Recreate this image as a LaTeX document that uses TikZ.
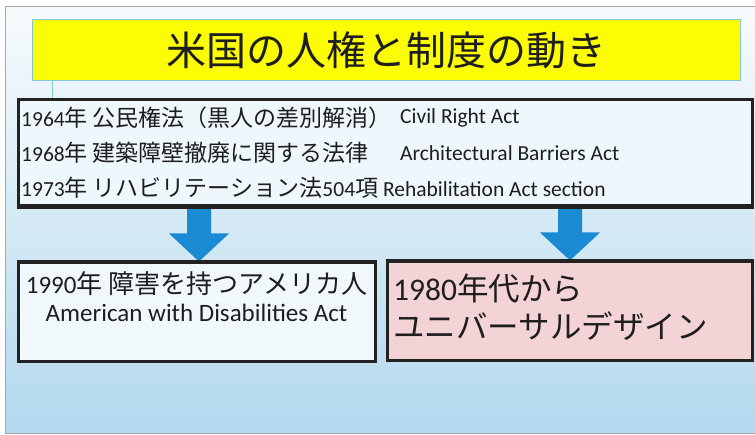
\documentclass[tikz,border=0pt]{standalone}
\usepackage{fontspec}
\setmainfont{Carlito}
\newfontfamily\jpf{Noto Sans CJK JP}
\usetikzlibrary{calc}
\definecolor{bgtop}{HTML}{F7FBFD}
\definecolor{bgmid}{HTML}{CDE6F3}
\definecolor{bgbot}{HTML}{B3D8EE}
\definecolor{titlefill}{HTML}{FCFC04}
\definecolor{titleedge}{HTML}{86C6DA}
\definecolor{mainfill}{HTML}{EEF7FB}
\definecolor{leftfill}{HTML}{F0F8FC}
\definecolor{pinkfill}{HTML}{F3D3D5}
\definecolor{arrowblue}{HTML}{1A8AD2}
\definecolor{ink}{HTML}{1E1E1E}
\definecolor{frame}{HTML}{222222}
\newcommand{\jmain}[1]{{\jpf\fontsize{23}{27}\selectfont #1}}
\newcommand{\jleft}[1]{{\jpf\fontsize{26}{30}\selectfont #1}}
\tikzset{
  titlebox/.style={draw=titleedge, line width=1pt, fill=titlefill, minimum width=708pt, minimum height=61pt, inner sep=0pt, text=ink, font=\jpf\fontsize{40}{48}\selectfont},
  bigbox/.style={draw=frame, line width=3pt, inner sep=0pt},
  mtext/.style={anchor=west, inner sep=0pt, text=ink, font=\fontsize{21.5}{26}\selectfont},
  ltext/.style={inner sep=0pt, text=ink, font=\fontsize{25}{30}\selectfont},
  rtext/.style={anchor=west, inner sep=0pt, text=ink, font=\fontsize{31.5}{37}\selectfont},
  arrowfill/.style={fill=arrowblue},
  thinline/.style={draw=titleedge, line width=1pt}
}
\begin{document}
\begin{tikzpicture}[x=1pt,y=-1pt]
\useasboundingbox (0,0) rectangle (755,435);
\fill[white] (0,0) rectangle (755,435);
\shade[top color=bgtop, middle color=bgmid, bottom color=bgbot] (5,7) rectangle (755,433);
\draw[gray!70, line width=1pt] (755,7) -- (5,7) -- (5,433) -- (755,433);

\node[titlebox] (title) at (386,50.5) {米国の人権と制度の動き};

\node[bigbox, fill=mainfill, minimum width=734pt, minimum height=106pt] (main) at (385,153) {};
\node[bigbox, fill=leftfill, minimum width=357pt, minimum height=99pt] (lbox) at (196.5,312.5) {};
\node[bigbox, fill=pinkfill, minimum width=365pt, minimum height=99pt] (rbox) at (569.5,311.5) {};

\coordinate (lc) at (52,0);
\draw[thinline] (title.south -| lc) -- (main.north -| lc);

\coordinate (ax1) at (199,0);
\coordinate (ax2) at (570,0);
\fill[arrowfill] let \p1=(main.south -| ax1), \p2=(lbox.north -| ax1) in
  (\x1-12pt,\y1) -- (\x1+12pt,\y1) -- (\x1+12pt,\y2+28pt) -- (\x1+30pt,\y2+28pt) -- (\x2,\y2) -- (\x1-30pt,\y2+28pt) -- (\x1-12pt,\y2+28pt) -- cycle;
\fill[arrowfill] let \p1=(main.south -| ax2), \p2=(rbox.north -| ax2) in
  (\x1-12pt,\y1) -- (\x1+12pt,\y1) -- (\x1+12pt,\y2+28pt) -- (\x1+30pt,\y2+28pt) -- (\x2,\y2) -- (\x1-30pt,\y2+28pt) -- (\x1-12pt,\y2+28pt) -- cycle;
\draw[bigbox] (main.south west) -- (main.south east);
\draw[bigbox] (lbox.north west) -- (lbox.north east);
\draw[bigbox] (rbox.north west) -- (rbox.north east);

\node[mtext] (m1) at (21,118) {1964\jmain{年 公民権法（黒人の差別解消）}};
\node[mtext] (e1) at (400,118) {Civil Right Act};
\node[mtext] (m2) at (21,153) {1968\jmain{年 建築障壁撤廃に関する法律}};
\node[mtext] (e2) at (400,153) {Architectural Barriers Act};
\node[mtext] (m3) at (21,188) {1973\jmain{年 リハビリテーション法}504\jmain{項} Rehabilitation Act section};

\node[ltext] (l1) at (196.5,284) {1990\jleft{年 障害を持つアメリカ人}};
\node[ltext] (l2) at (196.5,313) {American with Disabilities Act};

\node[rtext] (r1) at (393,288) {1980{\jpf 年代から}};
\node[rtext] (r2) at (393,326) {\jpf ユニバーサルデザイン};
\end{tikzpicture}
\end{document}
